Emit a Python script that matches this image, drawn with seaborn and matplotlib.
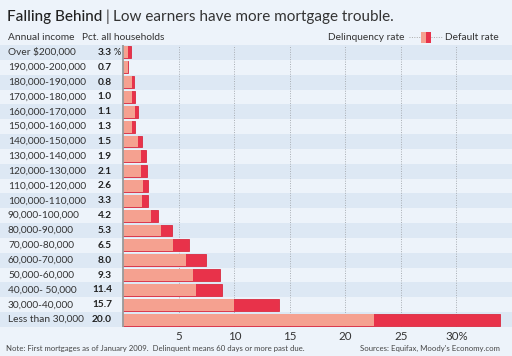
import matplotlib
matplotlib.use("Agg")
import matplotlib.pyplot as plt
import matplotlib.transforms as mtransforms
import seaborn as sns
import pandas as pd

incomes = ["Over $200,000", "190,000-200,000", "180,000-190,000", "170,000-180,000",
           "160,000-170,000", "150,000-160,000", "140,000-150,000", "130,000-140,000",
           "120,000-130,000", "110,000-120,000", "100,000-110,000", "90,000-100,000",
           "80,000-90,000", "70,000-80,000", "60,000-70,000", "50,000-60,000",
           "40,000- 50,000", "30,000-40,000", "Less than 30,000"]
pct_households = ["3.3", "0.7", "0.8", "1.0", "1.1", "1.3", "1.5", "1.9", "2.1", "2.6",
                  "3.3", "4.2", "5.3", "6.5", "8.0", "9.3", "11.4", "15.7", "20.0"]
delinquency = [0.45, 0.4, 0.75, 0.8, 1.08, 0.8, 1.3, 1.56, 1.62, 1.8,
               1.71, 2.5, 3.43, 4.5, 5.62, 6.3, 6.52, 10.0, 22.6]
default = [0.2, 0.0, 0.18, 0.22, 0.22, 0.22, 0.41, 0.46, 0.52, 0.43,
           0.52, 0.65, 0.99, 1.42, 1.86, 2.38, 2.37, 4.05, 11.3]
tick_values = [5, 10, 15, 20, 25, 30]
tick_labels = ["5", "10", "15", "20", "25", "30%"]

BG = "#edf3fa"
STRIPE = "#dde8f4"
LIGHT = "#f5a190"
DARK = "#e8324a"
TXT = "#333333"

sns.set_style("white")
plt.rcParams["font.family"] = ["Lato", "DejaVu Sans"]

df = pd.DataFrame({
    "income": incomes,
    "delinquency": delinquency,
    "total": [a + b for a, b in zip(delinquency, default)],
})

W, H = 512, 356
fig = plt.figure(figsize=(W / 100, H / 100), dpi=100, facecolor=BG)
top_px, bot_px = 45, 327
ax = fig.add_axes([0, (H - bot_px) / H, 1, (bot_px - top_px) / H], facecolor=BG)

n = len(incomes)
for i in range(0, n, 2):
    ax.axhspan(i - 0.5, i + 0.5, color=STRIPE, zorder=0.1, lw=0)

sns.barplot(data=df, x="total", y="income", orient="h", color=DARK, saturation=1,
            width=0.8, ax=ax, edgecolor="#d92a40", linewidth=0.6, zorder=2)
sns.barplot(data=df, x="delinquency", y="income", orient="h", color=LIGHT, saturation=1,
            width=0.8, ax=ax, linewidth=0, zorder=3)

px_per_unit = 11.1
x0 = 123.3
ax.set_xlim(-x0 / px_per_unit, (W - x0) / px_per_unit)
ax.set_ylim(n - 0.5, -0.5)
ax.set_xlabel("")
ax.set_ylabel("")
ax.set_yticks([])
ax.set_xticks(tick_values)
ax.set_xticklabels(tick_labels, fontsize=8.3, color=TXT)
ax.tick_params(axis="x", length=0, pad=3)
for s in ax.spines.values():
    s.set_visible(False)

for v in tick_values:
    ax.axvline(v, color="#a8adb3", lw=0.7, ls=(0, (1, 1.5)), zorder=1)
ax.axvline(0, color="#9a9a9a", lw=1.3, zorder=4)

blend = mtransforms.blended_transform_factory(fig.transFigure, ax.transData)
for i, (lab, p) in enumerate(zip(incomes, pct_households)):
    ax.text(8 / W, i, lab, transform=blend, ha="left", va="center",
            fontsize=7.3, color=TXT)
    ax.text(112 / W, i, p, transform=blend, ha="right", va="center",
            fontsize=7.3, color="#222222", fontweight="bold")
ax.text(113.5 / W, 0, "%", transform=blend, ha="left", va="center",
        fontsize=6.5, color="#222222")

# Title
fig.text(7 / W, 1 - 17 / H, "Falling Behind", fontsize=11, color="#222222",
         fontweight="medium", va="center", ha="left")
fig.text(106 / W, 1 - 17 / H, "|", fontsize=11, color="#333333", va="center", ha="left")
fig.text(113 / W, 1 - 17 / H, "Low earners have more mortgage trouble.", fontsize=11,
         color="#333333", va="center", ha="left")

# Header
fig.text(8 / W, 1 - 37 / H, "Annual income", fontsize=7.3, color=TXT, va="center")
fig.text(82 / W, 1 - 37 / H, "Pct. all households", fontsize=7.3, color=TXT, va="center")

# Legend
fig.text(405 / W, 1 - 37 / H, "Delinquency rate", fontsize=7.3, color=TXT, va="center", ha="right")
fig.text(445 / W, 1 - 37 / H, "Default rate", fontsize=7.3, color=TXT, va="center", ha="left")
fig.add_artist(plt.Line2D([409 / W, 421 / W], [1 - 37 / H] * 2, color="#aaaaaa", lw=0.7,
                          ls=(0, (1, 1.5))))
fig.add_artist(plt.Line2D([431 / W, 443 / W], [1 - 37 / H] * 2, color="#aaaaaa", lw=0.7,
                          ls=(0, (1, 1.5))))
fig.add_artist(plt.Rectangle((421 / W, 1 - 43 / H), 5 / W, 11 / H, color=LIGHT, lw=0))
fig.add_artist(plt.Rectangle((426 / W, 1 - 43 / H), 5 / W, 11 / H, color=DARK, lw=0))

# Footer
fig.text(6 / W, 1 - 348 / H,
         "Note: First mortgages as of January 2009.  Delinquent means 60 days or more past due.",
         fontsize=5.6, color="#444444", va="center", ha="left")
fig.text(500 / W, 1 - 348 / H, "Sources: Equifax, Moody's Economy.com",
         fontsize=5.6, color="#444444", va="center", ha="right")

fig.savefig("out.png", dpi=100, facecolor=BG)
